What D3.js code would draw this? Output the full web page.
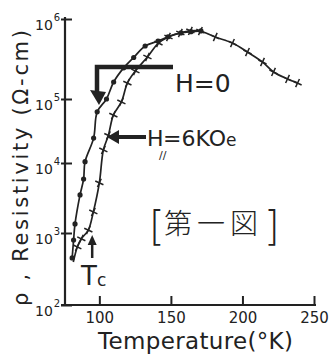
<!DOCTYPE html>
<html>
<head>
<meta charset="utf-8">
<script src="https://cdn.jsdelivr.net/npm/d3@7"></script>
<style>
  body { margin: 0; background: #fff; }
  text { font-family: "DejaVu Sans", sans-serif; fill: #222; }
</style>
</head>
<body>
<div id="chart"></div>
<script>
// data: temperature (K) and resistivity (ohm-cm)
var tempH0 = [81, 82, 83, 86.5, 89, 90, 96, 98.5, 105, 110, 117, 124, 132, 141, 148, 157, 164, 171];
var rhoH0 = [450, 800, 1350, 3500, 5900, 10500, 24500, 63000, 100000, 163000, 245000, 330000, 460000, 530000, 600000, 670000, 695000, 710000];

var tempH6 = [81.8, 84.6, 87.4, 92.3, 95.8, 100, 102.8, 106.3, 109.8, 115.4, 119.6, 125.2, 133.6, 141.3, 148.3, 156.6, 163.6, 170.6, 181, 193, 203.5, 214, 221.7, 231.5, 238.5];
var rhoH6 = [395, 640, 830, 1100, 2000, 5200, 16000, 27000, 56000, 90000, 158000, 224000, 335000, 500000, 596000, 668000, 710000, 707000, 596000, 500000, 386000, 290000, 218000, 178000, 158000];

var xTicks = [100, 150, 200, 250];
var yTicks = [1e2, 1e3, 1e4, 1e5, 1e6];
var yExp = ["2", "3", "4", "5", "6"];

var W = 334, H = 360;

var svg = d3.select("#chart").append("svg")
    .attr("width", W)
    .attr("height", H)
    .style("display", "block");

svg.append("rect").attr("width", W).attr("height", H).attr("fill", "#fff");

// hand drawn decades are not evenly spaced, so piecewise log scale
var x = d3.scaleLinear().domain([76, 250]).range([65, 314]);
var y = d3.scaleLog().domain(yTicks).range([305, 233, 163, 99, 19]);

// x axis
var xAxis = svg.append("g")
    .attr("transform", "translate(0,305)")
    .call(d3.axisBottom(x).tickValues(xTicks).tickSize(-9).tickSizeOuter(0).tickPadding(7));
xAxis.select(".domain").remove();
xAxis.append("line").attr("x1", 61).attr("x2", 316).attr("stroke", "#222").attr("stroke-width", 2.2);
xAxis.selectAll(".tick line").attr("stroke", "#222").attr("stroke-width", 2);
xAxis.selectAll(".tick text")
    .style("font-family", "DejaVu Sans, sans-serif")
    .style("font-size", "15px")
    .attr("fill", "#222");

// y axis
var yAxis = svg.append("g")
    .attr("transform", "translate(65,0)")
    .call(d3.axisLeft(y).tickValues(yTicks).tickSize(-7).tickSizeOuter(0).tickFormat(""));
yAxis.select(".domain").remove();
yAxis.append("line").attr("y1", 17).attr("y2", 306).attr("stroke", "#222").attr("stroke-width", 2.2);
yAxis.selectAll(".tick line").attr("x1", -4).attr("stroke", "#222").attr("stroke-width", 2);
yAxis.selectAll(".tick").each(function(d, i) {
  var lab = d3.select(this).append("text")
      .attr("x", -30).attr("y", 10)
      .attr("text-anchor", "start")
      .style("font-size", "14px");
  lab.append("tspan").text("10");
  lab.append("tspan").attr("dx", 1).attr("dy", -9).style("font-size", "10px").text(yExp[i]);
});

// axis titles
svg.append("text")
    .attr("transform", "translate(28,306) rotate(-90)")
    .attr("textLength", 276)
    .attr("lengthAdjust", "spacing")
    .style("font-size", "21px")
    .text("ρ , Resistivity (Ω-cm)");

svg.append("text")
    .attr("x", 98).attr("y", 349)
    .attr("textLength", 195)
    .attr("lengthAdjust", "spacing")
    .style("font-size", "23px")
    .text("Temperature(°K)");

// curves
var line = d3.line()
    .x(function(d) { return x(d[0]); })
    .y(function(d) { return y(d[1]); })
    .curve(d3.curveCatmullRom);

var h0 = tempH0.map(function(t, i) { return [t, rhoH0[i]]; });
var h6 = tempH6.map(function(t, i) { return [t, rhoH6[i]]; });

svg.append("path").datum(h6).attr("d", line)
    .attr("fill", "none").attr("stroke", "#222").attr("stroke-width", 1.7);
svg.append("path").datum(h0).attr("d", line)
    .attr("fill", "none").attr("stroke", "#222").attr("stroke-width", 1.7);

svg.selectAll(".cross").data(h6.slice(1)).enter().append("path")
    .attr("class", "cross")
    .attr("d", "M-4.5,0H4.5M0,-4.5V4.5")
    .attr("transform", function(d) { return "translate(" + x(d[0]) + "," + y(d[1]) + ") rotate(25)"; })
    .attr("stroke", "#222").attr("stroke-width", 1.5);

svg.selectAll(".dot").data(h0).enter().append("circle")
    .attr("class", "dot")
    .attr("cx", function(d) { return x(d[0]); })
    .attr("cy", function(d) { return y(d[1]); })
    .attr("r", 2.6)
    .attr("fill", "#222");

// annotations
svg.append("path").attr("d", "M173,67H97V96")
    .attr("fill", "none").attr("stroke", "#222").attr("stroke-width", 4.5);
svg.append("path").attr("d", "M90,90L106,92L99,105Z").attr("fill", "#222");
svg.append("text").attr("x", 175).attr("y", 92).style("font-size", "25px").text("H=0");

svg.append("path").attr("d", "M146,137H116")
    .attr("stroke", "#222").attr("stroke-width", 4);
svg.append("path").attr("d", "M107,137L119,130L119,144Z").attr("fill", "#222");
svg.append("text").attr("x", 147).attr("y", 146).style("font-size", "22px").text("H");
svg.append("text").attr("x", 159).attr("y", 159).style("font-size", "11px").text("//");
svg.append("text").attr("x", 163).attr("y", 146).style("font-size", "22px")
    .text("=6KO").append("tspan").style("font-size", "17px").text("e");

svg.append("text").attr("x", 149).attr("y", 240).style("font-size", "40px")
    .style("font-weight", "200").text("[");
svg.append("text").attr("x", 164).attr("y", 234)
    .style("font-family", "Noto Sans CJK JP").style("font-size", "28px")
    .style("font-weight", "300").attr("letter-spacing", 5).text("第一図");
svg.append("text").attr("x", 264).attr("y", 240).style("font-size", "40px")
    .style("font-weight", "200").text("]");

svg.append("path").attr("d", "M" + x(95) + ",258V243")
    .attr("stroke", "#222").attr("stroke-width", 2.5);
svg.append("path").attr("d", "M" + (x(95) - 4.5) + ",245L" + x(95) + ",235L" + (x(95) + 4.5) + ",245Z")
    .attr("fill", "#222");
svg.append("text").attr("x", 81).attr("y", 285).style("font-size", "26px").text("T");
svg.append("text").attr("x", 97).attr("y", 286).style("font-size", "17px").text("c");
</script>
</body>
</html>
